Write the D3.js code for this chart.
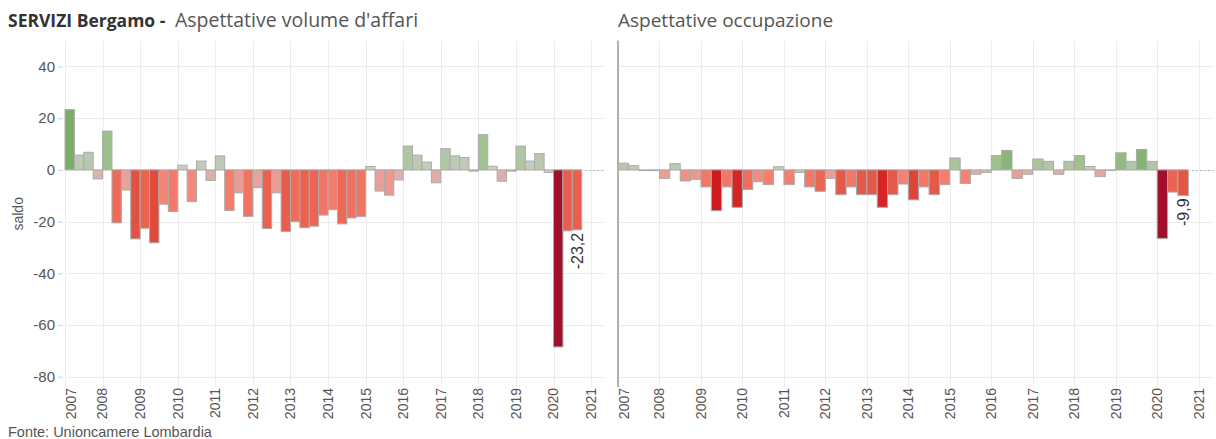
<!DOCTYPE html>
<html>
<head>
<meta charset="utf-8">
<script src="https://cdn.jsdelivr.net/npm/d3@7"></script>
<style>
  body { margin: 0; background: #fff; }
  svg { display: block; }
</style>
</head>
<body>
<div id="chart"></div>
<script>
// periodi: trimestri dal 2007 T1 al 2020 T3
const anni = [2007, 2008, 2009, 2010, 2011, 2012, 2013, 2014, 2015, 2016, 2017, 2018, 2019, 2020];
const trimestri = [1, 2, 3, 4];
const tickAnni = [2007, 2008, 2009, 2010, 2011, 2012, 2013, 2014, 2015, 2016, 2017, 2018, 2019, 2020, 2021];
const yTicks = [-80, -60, -40, -20, 0, 20, 40];

// saldo aspettative volume d'affari
const volumeAffari = [
  23.3, 5.7, 6.8, -3.5,
  15.0, -20.5, -7.8, -26.7,
  -22.6, -28.2, -13.3, -16.1,
  1.8, -12.3, 3.4, -4.1,
  5.4, -15.7, -8.9, -18.0,
  -6.9, -22.7, -8.9, -23.9,
  -20.0, -22.4, -21.8, -17.5,
  -15.4, -20.9, -18.6, -18.0,
  1.3, -8.2, -9.8, -3.9,
  9.2, 5.7, 3.0, -5.0,
  8.2, 5.4, 4.8, -0.5,
  13.6, 1.4, -4.4, -0.5,
  9.2, 3.4, 6.3, -1.0,
  -68.5, -23.6, -23.2
];

// saldo aspettative occupazione
const occupazione = [
  2.6, 1.6, -0.3, -0.3,
  -3.3, 2.4, -4.3, -3.7,
  -6.6, -15.8, -6.6, -14.5,
  -7.6, -4.6, -5.7, 1.2,
  -5.7, -1.0, -6.6, -8.3,
  -3.3, -9.6, -6.6, -9.6,
  -9.6, -14.5, -9.6, -5.5,
  -11.6, -6.6, -9.6, -5.7,
  4.6, -5.3, -1.7, -1.0,
  5.5, 7.5, -3.3, -1.7,
  4.2, 3.3, -1.7, 3.3,
  5.5, 1.3, -2.6, -0.2,
  6.6, 3.3, 7.9, 3.3,
  -26.5, -8.6, -9.9
];

const periodi = anni.flatMap(a => trimestri.map(q => ({anno: a, q: q}))).slice(0, volumeAffari.length);

const width = 1216, height = 439;
const plotTop = 40.6, plotBottom = 387;

const svg = d3.select("#chart").append("svg")
  .attr("width", width)
  .attr("height", height);

const y = d3.scaleLinear()
  .domain([-84, 50])
  .range([plotBottom, plotTop]);

const itLocale = d3.formatLocale({decimal: ",", thousands: ".", grouping: [3], currency: ["", "€"], minus: "-"});
const valFormat = itLocale.format(".1f");
const tickFormat = itLocale.format("d");

// scala colori divergente rosso-grigio-verde, normalizzata sul massimo assoluto del pannello
const negColor = d3.scaleLinear()
  .domain([0, 0.06, 0.12, 0.2, 0.3, 0.41, 0.59, 1])
  .range(["#cfd1c9", "#dcb0aa", "#e8a098", "#f58372", "#ee6a58", "#e04b3c", "#d11b1e", "#a0102d"])
  .clamp(true);
const posColor = d3.scaleLinear()
  .domain([0, 0.05, 0.1, 0.21, 0.34, 1])
  .range(["#cfd1c9", "#c4cbbd", "#b8c8ae", "#9ec18c", "#78ae68", "#24693d"])
  .clamp(true);

function drawPanel(values, x0, x1, showY) {
  const g = svg.append("g");
  const x = d3.scaleLinear()
    .domain([2007, 2021.37])
    .range([x0, x1]);
  const maxAbs = d3.max(values, v => Math.abs(v));

  // griglia orizzontale
  g.append("g").selectAll("line")
    .data(yTicks)
    .enter().append("line")
    .attr("x1", x0)
    .attr("x2", x1)
    .attr("y1", d => Math.round(y(d)) + 0.5)
    .attr("y2", d => Math.round(y(d)) + 0.5)
    .attr("stroke", "#ececec");

  // griglia verticale
  g.append("g").selectAll("line")
    .data(tickAnni)
    .enter().append("line")
    .attr("x1", d => Math.round(x(d)) + 0.5)
    .attr("x2", d => Math.round(x(d)) + 0.5)
    .attr("y1", plotTop)
    .attr("y2", plotBottom)
    .attr("stroke", "#ececec");

  if (showY) {
    const yAxis = d3.axisLeft(y).tickValues(yTicks).tickFormat(tickFormat).tickSize(5).tickPadding(3);
    const ga = g.append("g")
      .attr("transform", "translate(" + (x0 - 2) + ",0)")
      .call(yAxis);
    ga.select(".domain").remove();
    ga.selectAll("line").attr("stroke", "#cfcfcf");
    ga.selectAll("text")
      .attr("fill", "#555")
      .style("font-family", "'Liberation Sans', Arial, sans-serif")
      .style("font-size", "15px");

    g.append("text")
      .attr("transform", "translate(23," + ((plotTop + plotBottom) / 2) + ") rotate(-90)")
      .attr("text-anchor", "middle")
      .attr("fill", "#555")
      .style("font-family", "'Liberation Sans', Arial, sans-serif")
      .style("font-size", "14px")
      .text("saldo");
  } else {
    g.append("line")
      .attr("x1", x0)
      .attr("x2", x0)
      .attr("y1", plotTop)
      .attr("y2", plotBottom)
      .attr("stroke", "#b0b0b0")
      .attr("stroke-width", 2);
  }

  // barre
  g.append("g").selectAll("rect")
    .data(values)
    .enter().append("rect")
    .attr("x", (d, i) => x(periodi[i].anno + (periodi[i].q - 1) / 4))
    .attr("width", (d, i) => x(periodi[i].anno + periodi[i].q / 4) - x(periodi[i].anno + (periodi[i].q - 1) / 4))
    .attr("y", d => y(Math.max(0, d)))
    .attr("height", d => Math.max(0.6, Math.abs(y(d) - y(0))))
    .attr("fill", d => d < 0 ? negColor(-d / maxAbs) : posColor(d / maxAbs))
    .attr("stroke", "#ababab")
    .attr("stroke-width", 1);

  // linea di riferimento punteggiata dopo l'ultima barra
  const last = periodi[values.length - 1];
  g.append("line")
    .attr("x1", x(last.anno + last.q / 4) + 4)
    .attr("x2", x1)
    .attr("y1", Math.round(y(0)) + 0.5)
    .attr("y2", Math.round(y(0)) + 0.5)
    .attr("stroke", "#888")
    .attr("stroke-dasharray", "1,3");

  // etichetta ultimo valore
  const lv = values[values.length - 1];
  const lx = x(last.anno + (last.q - 0.5) / 4);
  g.append("text")
    .attr("transform", "translate(" + lx + "," + (y(lv) + 3) + ") rotate(-90)")
    .attr("text-anchor", "end")
    .attr("dy", "0.35em")
    .attr("fill", "#333")
    .style("font-family", "'Liberation Sans', Arial, sans-serif")
    .style("font-size", "16px")
    .text(valFormat(lv));

  // etichette anni
  g.append("g").selectAll("text")
    .data(tickAnni)
    .enter().append("text")
    .attr("transform", (d, i) => "translate(" + (x(d) + (i === 0 ? 6 : 0)) + "," + (plotBottom + 1) + ") rotate(-90)")
    .attr("text-anchor", "end")
    .attr("dy", "0.35em")
    .attr("fill", "#555")
    .style("font-family", "'Liberation Sans', Arial, sans-serif")
    .style("font-size", "14px")
    .text(d => d);

  return x;
}

drawPanel(volumeAffari, 65, 605, true);
drawPanel(occupazione, 618, 1214, false);

// titoli
const t1 = svg.append("text")
  .attr("x", 8)
  .attr("y", 27)
  .style("font-family", "'Open Sans', sans-serif")
  .style("font-size", "19px");
t1.append("tspan").attr("fill", "#333").style("font-weight", "bold").style("font-size", "17.5px").text("SERVIZI Bergamo - ");
t1.append("tspan").attr("fill", "#555").attr("dx", 5).style("font-size", "19.5px").text("Aspettative volume d'affari");

svg.append("text")
  .attr("x", 618)
  .attr("y", 27)
  .attr("fill", "#555")
  .style("font-family", "'Open Sans', sans-serif")
  .style("font-size", "19px")
  .text("Aspettative occupazione");

svg.append("text")
  .attr("x", 8)
  .attr("y", 437)
  .attr("fill", "#555")
  .style("font-family", "'Liberation Sans', Arial, sans-serif")
  .style("font-size", "14.5px")
  .text("Fonte: Unioncamere Lombardia");
</script>
</body>
</html>
